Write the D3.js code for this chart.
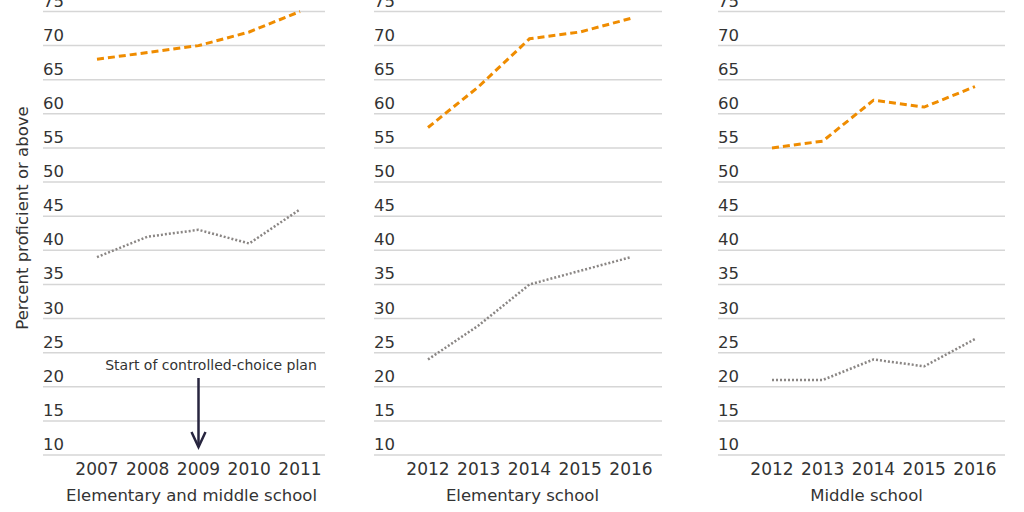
<!DOCTYPE html>
<html>
<head>
<meta charset="utf-8">
<script src="https://cdn.jsdelivr.net/npm/d3@7"></script>
<style>
  body { margin: 0; background: #fff; }
  text { font-family: "DejaVu Sans", sans-serif; fill: #333; }
</style>
</head>
<body>
<script>
// data
var panelTitles = ["Elementary and middle school", "Elementary school", "Middle school"];
var years1 = [2007, 2008, 2009, 2010, 2011];
var years2 = [2012, 2013, 2014, 2015, 2016];
var upper1 = [68, 69, 70, 72, 75];
var lower1 = [39, 42, 43, 41, 46];
var upper2 = [58, 64, 71, 72, 74];
var lower2 = [24, 29, 35, 37, 39];
var upper3 = [55, 56, 62, 61, 64];
var lower3 = [21, 21, 24, 23, 27];
var yTicks = [10, 15, 20, 25, 30, 35, 40, 45, 50, 55, 60, 65, 70, 75];
var yTitle = "Percent proficient or above";
var noteText = "Start of controlled-choice plan";
var noteYear = 2009;

var panels = [
  { title: panelTitles[0], years: years1, upper: upper1, lower: lower1, left: 43, right: 325 },
  { title: panelTitles[1], years: years2, upper: upper2, lower: lower2, left: 374, right: 662 },
  { title: panelTitles[2], years: years2, upper: upper3, lower: lower3, left: 718, right: 1005 }
];

var width = 1024, height = 512;
var svg = d3.select("body").append("svg")
  .attr("width", width)
  .attr("height", height);

var y = d3.scaleLinear().domain([10, 75]).range([455, 11.5]);

panels.forEach(function(p, pi) {
  var g = svg.append("g");
  var x = d3.scaleLinear()
    .domain([p.years[0], p.years[p.years.length - 1]])
    .range([p.left + 54, p.left + 257]);

  // gridlines
  g.selectAll(".grid")
    .data(yTicks)
    .enter()
    .append("line")
    .attr("x1", p.left)
    .attr("x2", p.right)
    .attr("y1", function(d) { return y(d); })
    .attr("y2", function(d) { return y(d); })
    .attr("stroke", "#d6d6d6")
    .attr("stroke-width", 1.5);

  // y tick labels sit above the gridlines
  g.selectAll(".ylab")
    .data(yTicks)
    .enter()
    .append("text")
    .attr("x", p.left)
    .attr("y", function(d) { return y(d) - 5; })
    .style("font-size", "16.5px")
    .text(function(d) { return d; });

  // x tick labels
  g.selectAll(".xlab")
    .data(p.years)
    .enter()
    .append("text")
    .attr("x", function(d) { return x(d); })
    .attr("y", 475)
    .attr("text-anchor", "middle")
    .style("font-size", "17px")
    .text(function(d) { return d; });

  g.append("text")
    .attr("x", x((p.years[0] + p.years[4]) / 2) - 7)
    .attr("y", 501)
    .attr("text-anchor", "middle")
    .style("font-size", "16.5px")
    .text(p.title);

  var line = d3.line()
    .x(function(d, i) { return x(p.years[i]); })
    .y(function(d) { return y(d); });

  g.append("path")
    .datum(p.upper)
    .attr("d", line)
    .attr("fill", "none")
    .attr("stroke", "#ef8c00")
    .attr("stroke-width", 3)
    .attr("stroke-dasharray", "7,4");

  g.append("path")
    .datum(p.lower)
    .attr("d", line)
    .attr("fill", "none")
    .attr("stroke", "#8a8684")
    .attr("stroke-width", 2.5)
    .attr("stroke-dasharray", "2,2");

  if (pi === 0) {
    var ax = x(noteYear);
    g.append("text")
      .attr("x", 211)
      .attr("y", 370)
      .attr("text-anchor", "middle")
      .style("font-size", "14px")
      .text(noteText);
    g.append("line")
      .attr("x1", ax).attr("x2", ax)
      .attr("y1", 378).attr("y2", 446)
      .attr("stroke", "#27253f")
      .attr("stroke-width", 2.5);
    g.append("path")
      .attr("d", "M" + (ax - 7) + ",432 L" + ax + ",447 L" + (ax + 7) + ",432")
      .attr("fill", "none")
      .attr("stroke", "#27253f")
      .attr("stroke-width", 2.5);
  }
});

svg.append("text")
  .attr("transform", "translate(28,218) rotate(-90)")
  .attr("text-anchor", "middle")
  .style("font-size", "16.5px")
  .text(yTitle);
</script>
</body>
</html>
